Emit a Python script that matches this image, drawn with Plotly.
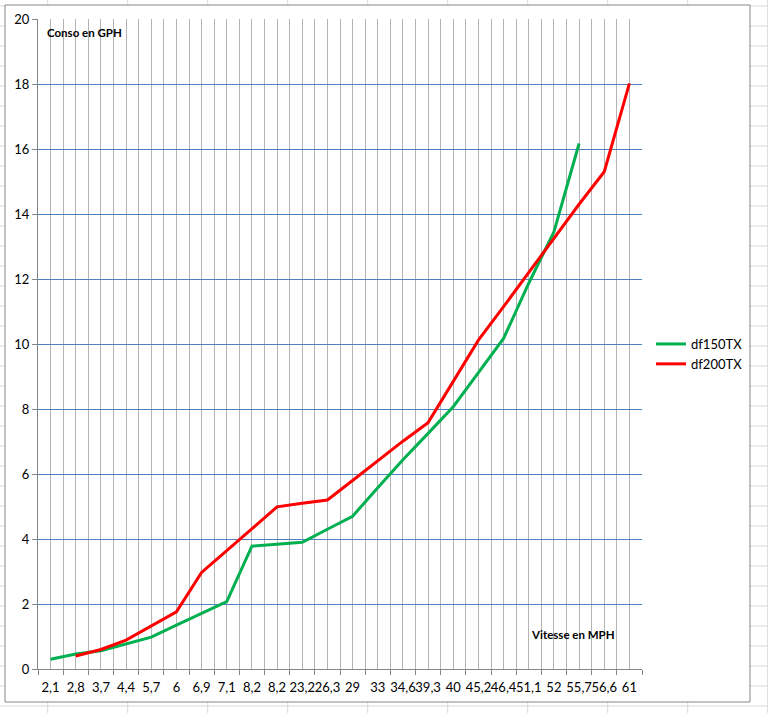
import numpy as np
import plotly.graph_objects as go

# -----------------------------
# Data
# -----------------------------
speeds = ["2,1", "2,8", "3,7", "4,4", "5,7", "6", "6,9", "7,1", "8,2", "8,2",
          "23,2", "26,3", "29", "33", "34,6", "39,3", "40", "45,2", "46,4",
          "51,1", "52", "55,7", "56,6", "61"]

df150tx = [0.3, 0.46, 0.56, 0.77, 0.98, 1.35, 1.71, 2.07, 3.78, 3.84,
           3.9, 4.3, 4.7, 5.58, 6.44, 7.25, 8.07, 9.12, 10.17,
           11.87, 13.45, 16.17, None, None]

df200tx = [None, 0.4, 0.6, 0.89, 1.32, 1.76, 2.97, 3.65, 4.33, 4.99,
           5.1, 5.2, 5.8, 6.41, 7.01, 7.58, 8.85, 10.12, 11.15,
           12.2, 13.25, 14.3, 15.3, 18.02]

y_ticks = list(range(0, 21, 2))

# -----------------------------
# Geometry of the page (px)
# -----------------------------
W, H = 768, 713
L, R, T, B = 38, 126, 19, 44
PW, PH = W - L - R, H - T - B


def px_x(x):
    return (x - L) / PW


def px_y(y):
    return (H - B - y) / PH


FONT = "Lato"
x_idx = np.arange(len(speeds))

fig = go.Figure()

fig.add_trace(go.Scatter(
    x=x_idx, y=df150tx, mode="lines", name="df150TX",
    line=dict(color="#00b050", width=3),
))
fig.add_trace(go.Scatter(
    x=x_idx, y=df200tx, mode="lines", name="df200TX",
    line=dict(color="#ff0000", width=3),
))

# -----------------------------
# Spreadsheet cells behind the chart + chart area frame
# -----------------------------
shapes = []
for yy in range(6, H + 1, 20):
    shapes.append(dict(type="line", xref="paper", yref="paper", layer="below",
                       x0=px_x(0), x1=px_x(W), y0=px_y(yy), y1=px_y(yy),
                       line=dict(color="#dadada", width=1)))
for xx in np.arange(47.7, W + 1, 80):
    shapes.append(dict(type="line", xref="paper", yref="paper", layer="below",
                       x0=px_x(xx), x1=px_x(xx), y0=px_y(0), y1=px_y(H),
                       line=dict(color="#dadada", width=1)))
shapes.append(dict(type="rect", xref="paper", yref="paper", layer="below",
                   x0=px_x(5), x1=px_x(750), y0=px_y(702), y1=px_y(5),
                   fillcolor="white", line=dict(color="#868686", width=1)))

# -----------------------------
# Layout
# -----------------------------
fig.update_layout(
    width=W, height=H,
    margin=dict(l=L, r=R, t=T, b=B, pad=0, autoexpand=False),
    paper_bgcolor="white",
    plot_bgcolor="rgba(0,0,0,0)",
    font=dict(family=FONT, size=13, color="black"),
    shapes=shapes,
    showlegend=True,
    legend=dict(
        x=px_x(651), y=px_y(354), xanchor="left", yanchor="middle",
        bgcolor="rgba(0,0,0,0)", font=dict(family=FONT, size=13, color="black"),
        tracegroupgap=0,
    ),
    annotations=[
        dict(text="<b>Conso en GPH</b>", xref="paper", yref="paper",
             x=px_x(45), y=px_y(33), xanchor="left", yanchor="middle",
             showarrow=False, font=dict(family=FONT, size=11.5, color="black")),
        dict(text="<b>Vitesse en MPH</b>", xref="paper", yref="paper",
             x=px_x(529), y=px_y(634), xanchor="left", yanchor="middle",
             showarrow=False, font=dict(family=FONT, size=11.5, color="black")),
    ],
)

fig.update_xaxes(
    type="linear",
    range=[-0.5, len(speeds) - 0.5],
    tickmode="array", tickvals=x_idx, ticktext=speeds,
    tickangle=0, automargin=False,
    ticks="", ticklabelstandoff=6,
    showgrid=True, gridcolor="#b4b4b4", gridwidth=1,
    minor=dict(tick0=0.5, dtick=1, ticks="outside", ticklen=5,
               tickcolor="#868686", showgrid=True, gridcolor="#b4b4b4", gridwidth=1),
    showline=True, linecolor="#868686", linewidth=1,
    zeroline=False, fixedrange=True,
    tickfont=dict(family=FONT, size=13, color="black"),
)

fig.update_yaxes(
    range=[0, 20], tickvals=y_ticks, automargin=False,
    ticks="outside", ticklen=5, tickcolor="#868686",
    showgrid=True, gridcolor="#4f81bd", gridwidth=1,
    showline=True, linecolor="#868686", linewidth=1,
    zeroline=False, fixedrange=True,
    tickfont=dict(family=FONT, size=13, color="black"),
)

# drop the browser's default page margin so the figure sits at (0, 0)
fig.write_html(
    "out.html",
    config={"displayModeBar": False},
    post_script="document.body.style.margin='0px';document.body.style.overflow='hidden';",
)
